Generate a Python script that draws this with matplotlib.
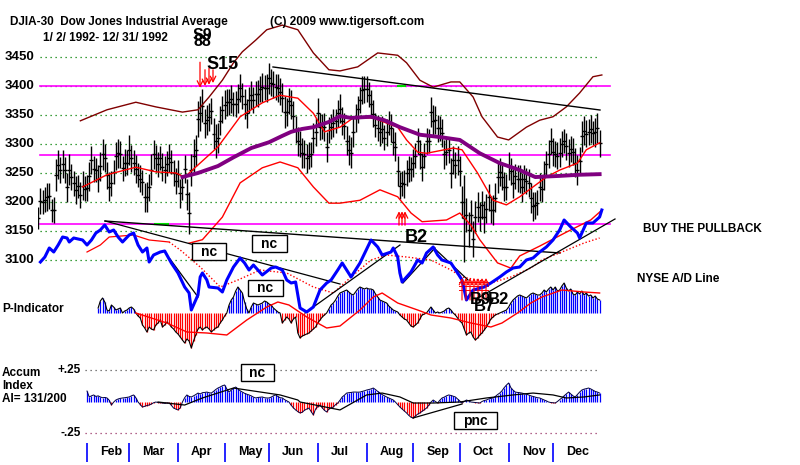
import numpy as np
import matplotlib
matplotlib.use('Agg')
import matplotlib.pyplot as plt
from matplotlib.patches import Rectangle

# fonts
plt.rcParams['font.family'] = ['Liberation Sans', 'DejaVu Sans']

W, H = 800, 465
X0, DX = 38.2, 2.219   # pixel of trading day 0, pixels per trading day

# ---------------- data ----------------
months = ['Jan', 'Feb', 'Mar', 'Apr', 'May', 'Jun', 'Jul', 'Aug', 'Sep', 'Oct', 'Nov', 'Dec']
month_days = [22, 19, 22, 21, 20, 22, 22, 21, 21, 22, 20, 22]
price_ticks = [3100, 3150, 3200, 3250, 3300, 3350, 3400, 3450]
magenta_levels = [3400, 3281, 3162]

# daily DJIA closes 1992
closes = [
    3172, 3201, 3200, 3204, 3209, 3210, 3186, 3186, 3246, 3264, 3255, 3265, 3255, 3225, 3256, 3243, 3232, 3221, 3227, 3212, 3228, 3223,
    3224, 3244, 3272, 3257, 3255, 3240, 3262, 3282, 3276, 3246, 3226, 3232, 3252, 3280, 3284, 3282, 3258, 3268, 3268,
    3290, 3275, 3268, 3257, 3246, 3240, 3234, 3208, 3209, 3225, 3256, 3282, 3275, 3265, 3276, 3260, 3256, 3266, 3276, 3269, 3250, 3236,
    3249, 3215, 3225, 3257, 3213, 3181, 3255, 3280, 3289, 3343, 3353, 3366, 3336, 3341, 3347, 3357, 3318, 3305, 3310, 3340, 3359,
    3368, 3372, 3372, 3378, 3369, 3369, 3378, 3397, 3383, 3369, 3353, 3376, 3384, 3376, 3387, 3387, 3395, 3398, 3397, 3396,
    3413, 3406, 3403, 3398, 3396, 3390, 3380, 3355, 3355, 3374, 3368, 3348, 3325, 3305, 3300, 3285, 3283, 3275, 3280, 3282, 3310, 3320,
    3354, 3330, 3330, 3329, 3295, 3324, 3330, 3336, 3340, 3353, 3361, 3339, 3331, 3306, 3290, 3285, 3320, 3345, 3360, 3376, 3393, 3394,
    3395, 3385, 3369, 3352, 3333, 3328, 3320, 3325, 3311, 3320, 3336, 3328, 3304, 3295, 3254, 3228, 3232, 3231, 3250, 3257, 3257,
    3267, 3280, 3305, 3282, 3260, 3280, 3305, 3305, 3355, 3340, 3341, 3327, 3327, 3319, 3282, 3287, 3290, 3250, 3272, 3264, 3272,
    3254, 3200, 3172, 3178, 3152, 3177, 3137, 3174, 3191, 3175, 3195, 3174, 3188, 3208, 3187, 3186, 3207, 3243, 3251, 3243, 3226, 3226,
    3262, 3253, 3232, 3244, 3240, 3240, 3225, 3240, 3236, 3233, 3207, 3193, 3194, 3199, 3226, 3223, 3246, 3266, 3283, 3305,
    3286, 3283, 3280, 3285, 3300, 3305, 3296, 3284, 3291, 3287, 3268, 3255, 3270, 3313, 3323, 3318, 3321, 3326, 3319, 3320, 3327, 3301,
]
# daily high-low range
spreads = [
    38, 45, 40, 42, 48, 44, 40, 46, 55, 50, 44, 48, 45, 50, 52, 46, 44, 48, 40, 46, 50, 44,
    46, 50, 48, 44, 42, 46, 50, 52, 48, 46, 50, 44, 42, 48, 50, 46, 44, 48, 42,
    52, 46, 44, 48, 42, 46, 44, 50, 52, 48, 54, 50, 46, 44, 42, 48, 46, 44, 48, 42, 46, 44,
    46, 50, 44, 48, 52, 72, 56, 58, 54, 62, 60, 56, 50, 52, 48, 46, 54, 58, 52, 50, 46,
    50, 46, 44, 48, 42, 46, 50, 48, 46, 52, 50, 44, 48, 46, 42, 48, 46, 50, 44, 48,
    52, 48, 46, 44, 48, 46, 50, 54, 48, 46, 50, 52, 48, 50, 46, 52, 48, 50, 46, 44, 52, 48,
    50, 46, 44, 48, 52, 46, 44, 48, 42, 46, 50, 48, 44, 50, 52, 54, 50, 48, 46, 44, 48, 46,
    46, 44, 48, 46, 42, 44, 46, 48, 44, 46, 42, 48, 46, 50, 52, 46, 44, 48, 46, 44, 42,
    48, 44, 46, 50, 48, 44, 46, 42, 52, 54, 48, 46, 44, 48, 50, 46, 44, 52, 48, 46, 50,
    52, 56, 150, 58, 60, 54, 62, 56, 52, 50, 48, 54, 50, 46, 48, 52, 50, 54, 48, 46, 50, 44,
    48, 46, 50, 44, 46, 48, 50, 46, 44, 48, 52, 50, 46, 44, 48, 46, 50, 44, 48, 46,
    48, 44, 46, 50, 44, 42, 46, 48, 44, 46, 50, 52, 48, 54, 50, 46, 44, 48, 42, 50, 52, 46,
]

# slow moving average (purple)
ma_slow_days = [65, 72, 81, 88, 96, 104, 110, 114, 119, 124, 131, 136, 141, 150, 156, 163, 172, 181, 190, 199, 208, 217, 224, 235, 244, 253]
ma_slow_vals = [3243, 3250, 3262, 3277, 3293, 3303, 3314, 3321, 3326, 3329, 3338, 3348, 3345, 3347, 3341, 3329, 3316, 3312, 3307, 3284, 3267, 3255, 3243, 3245, 3247, 3248]
# 21-day average (red)
ma_fast_days = [20, 31, 44, 53, 62, 66, 81, 91, 101, 109, 117, 124, 129, 136, 142, 151, 157, 162, 166, 171, 175, 187, 191, 198, 205, 211, 217, 223, 229, 235, 243, 247, 253]
ma_fast_vals = [3226, 3247, 3260, 3252, 3250, 3243, 3295, 3347, 3371, 3384, 3379, 3353, 3321, 3329, 3345, 3345, 3336, 3329, 3307, 3286, 3284, 3293, 3290, 3250, 3203, 3195, 3209, 3226, 3243, 3255, 3267, 3290, 3302]
# upper band (dark red)
upper_days = [19, 31, 44, 53, 65, 72, 77, 83, 88, 92, 98, 103, 110, 117, 124, 131, 136, 144, 153, 162, 166, 172, 178, 186, 190, 196, 200, 207, 212, 220, 226, 232, 238, 244, 250, 254]
upper_vals = [3340, 3359, 3372, 3364, 3355, 3359, 3381, 3410, 3440, 3459, 3479, 3497, 3505, 3497, 3457, 3428, 3426, 3433, 3457, 3453, 3440, 3410, 3398, 3407, 3407, 3381, 3347, 3312, 3307, 3329, 3341, 3347, 3364, 3388, 3416, 3419]
# lower band (red)
lower_days = [68, 74, 83, 91, 101, 109, 117, 124, 131, 136, 145, 154, 162, 168, 173, 184, 190, 195, 199, 207, 213, 217, 226, 238, 249, 254]
lower_vals = [3129, 3135, 3174, 3233, 3259, 3269, 3259, 3226, 3198, 3198, 3203, 3221, 3209, 3181, 3166, 3169, 3181, 3160, 3135, 3095, 3086, 3107, 3124, 3148, 3169, 3186]

# NYSE A/D line (relative units)
ad_days = [1, 3, 5, 7, 9, 11, 13, 14, 16, 20, 22, 24, 26, 28, 30, 32, 34, 36, 38, 41, 43, 45, 47, 49, 50, 52, 55, 57,
           60, 63, 66, 68, 69, 72, 73, 74, 76, 77, 81, 83, 85, 88, 91, 93, 95, 97, 99, 101, 105, 107, 110, 112, 114,
           116, 118, 121, 124, 127, 130, 132, 135, 137, 141, 145, 150, 153, 155, 159, 160, 162, 163, 164, 168, 171, 173,
           175, 178, 180, 182, 186, 189, 191, 193, 196, 201, 204, 208, 211, 214, 217, 220, 223, 226, 229, 232, 235, 237,
           240, 243, 244, 247, 250, 253, 254]
ad_vals = [68, 73, 82, 78, 85, 93, 92, 88, 92, 90, 85, 90, 97, 100, 105, 98, 100, 93, 88, 95, 97, 85, 78, 82, 68, 75, 78, 79,
           67, 57, 43, 37, 20, 35, 53, 57, 50, 43, 42, 38, 50, 63, 72, 67, 60, 65, 60, 55, 62, 63, 60, 50, 47,
           48, 22, 18, 23, 40, 47, 50, 60, 67, 53, 67, 90, 83, 75, 78, 82, 73, 57, 48, 58, 70, 67,
           77, 83, 75, 70, 67, 57, 50, 30, 40, 43, 47, 53, 58, 62, 63, 70, 72, 78, 83, 90, 100, 110,
           103, 97, 92, 107, 107, 113, 120]
ad_ma_solid_days = [22, 28, 32, 43, 50, 59]
ad_ma_solid_vals = [78, 85, 93, 95, 90, 88]
ad_ma_days = [59, 64, 73, 82, 90, 100, 112, 124, 133, 141, 150, 157, 166, 177, 186, 191, 198, 204, 213, 222, 227, 236, 246, 253]
ad_ma_vals = [88, 80, 63, 43, 50, 60, 57, 43, 37, 53, 70, 75, 73, 70, 60, 53, 50, 47, 53, 62, 70, 78, 87, 92]

# P-Indicator, one value per day from day 27
p_start = 27
p_vals = [
    5, 12, 15, 11, 3, 2, 8, 6, 3, 4,
    5, 0, 2, 3, 5, 6, 4, 0, -3, -5,
    -12, -15, -19, -14, -16, -17, -12, -10, -7, -14,
    -12, -9, -11, -14, -16, -19, -21, -24, -27, -30,
    -26, -28, -35, -28, -22, -16, -14, -17, -15, -14,
    -16, -19, -17, -15, -14, -10, -7, -3, 0, 8,
    13, 16, 22, 26, 23, 20, 11, 4, 0, 6,
    10, 9, 8, 9, 10, 12, 11, 9, 8, 5,
    3, 1, 0, -10, -7, -4, -6, -10, -6, -4,
    -20, -25, -23, -22, -21, -20, -18, -16, -14, -10,
    -7, -4, -2, 0, 4, 8, 10, 13, 17, 20,
    21, 22, 23, 21, 19, 18, 21, 24, 26, 25,
    24, 25, 24, 24, 23, 19, 16, 13, 12, 11,
    10, 7, 5, 3, 2, 1, -2, -4, -6, -7,
    -10, -13, -14, -12, -10, -6, -2, -1, 0, 3,
    6, 3, 0, 1, 0, 1, 2, 4, 5, 3,
    0, -2, -5, -8, -10, -16, -22, -20, -19, -24,
    -27, -25, -22, -20, -17, -14, -10, -6, -4, -2,
    -1, 0, 1, 2, 3, 6, 10, 13, 15, 17,
    18, 17, 16, 15, 17, 19, 20, 19, 18, 18,
    20, 23, 21, 24, 26, 23, 26, 22, 23, 27,
    30, 25, 22, 24, 19, 18, 21, 19, 22, 18,
    20, 17, 18, 15, 17, 14, 13,
]
p_ma_days = [44, 58, 67, 76, 85, 94, 103, 108, 113, 121, 130, 136, 145, 151, 155, 162, 171, 177, 186, 195, 204, 209, 216, 222, 227, 236, 246, 253]
p_ma_vals = [0, -10, -19, -20, -22, -7, 6, 11, 8, -4, -15, -13, 3, 16, 20, 10, 3, -2, -5, -10, -14, -10, 0, 10, 16, 23, 21, 20]

# Accumulation Index, one value per day from day 22
ai_start = 22
ai_vals = [
    .083, .036, .045, .052, .040, .045, .036, .030, .032, .028,
    .010, -.028, -.005, .012, .020, .025, .028, .030, .033, .036,
    .045, .052, .030, -.004, -.025, -.044, -.038, -.032, -.028, -.020,
    -.010, -.004, -.008, -.010, -.012, -.015, -.012, -.012, -.030, -.052,
    -.060, -.067, -.050, -.004, .030, .052, .040, .036, .045, .055,
    .067, .060, .070, .072, .075, .070, .067, .080, .095, .107,
    .115, .125, .131, .100, .075, .090, .105, .115, .100, .085,
    .075, .065, .058, .052, .045, .035, .028, .032, .034, .036,
    .030, .028, .028, .035, .045, .052, .040, .030, .028, .015,
    .005, -.004, -.030, -.050, -.067, -.080, -.091, -.085, -.070, -.060,
    -.052, -.080, -.107, -.060, -.040, -.028, -.050, -.070, -.083, -.060,
    -.050, -.044, -.025, -.012, .010, .036, .050, .067, .070, .072,
    .075, .075, .074, .075, .080, .085, .091, .095, .100, .107,
    .095, .080, .067, .055, .045, .036, .028, .020, .012, -.005,
    -.025, -.044, -.060, -.075, -.091, -.110, -.125, -.131, -.115, -.100,
    -.091, -.078, -.065, -.052, -.030, -.005, .012, .000, -.012, .010,
    .028, .035, .045, .052, .048, .042, .036, .020, .005, -.012,
    .000, .012, .005, -.004, -.006, -.008, -.010, -.012, .000, .008,
    .012, .020, .025, .028, .040, .055, .067, .085, .110, .130,
    .147, .110, .090, .075, .072, .070, .067, .062, .058, .052,
    .045, .040, .035, .030, .028, .020, .012, .005, -.004, -.008,
    -.010, -.012, .000, .015, .028, .045, .060, .075, .060, .045,
    .036, .055, .075, .091, .098, .102, .107, .100, .090, .080,
    .075, .067,
]
ai_ma_days = [54, 66, 74, 88, 109, 117, 118, 136, 148, 155, 163, 169, 178, 190, 202, 214, 223, 232, 238, 246, 253]
ai_ma_vals = [-.004, -.028, .028, .107, .052, .012, -.004, -.067, .052, .067, .036, -.012, -.012, -.004, .028, .052, .067, .052, .028, .036, .052]


# ---------------- layout helpers ----------------
def day(x):
    return (x - X0) / DX


def fpos(x, y):
    return x / W, 1 - y / H


fig = plt.figure(figsize=(W / 100, H / 100), dpi=100)
fig.patch.set_facecolor('white')


def panel(top, bottom, ylim):
    ax = fig.add_axes([38 / W, 1 - bottom / H, 574 / W, (bottom - top) / H])
    ax.set_xlim(day(38), day(612))
    ax.set_ylim(*ylim)
    ax.axis('off')
    return ax


def ftext(x, y, s, size=8.5, **kw):
    fig.text(*fpos(x, y), s, fontsize=size, fontweight='bold', va='center', **kw)


# ---------------- price panel ----------------
ax_p = panel(20, 270, (3082.76, 3513.79))
for lvl in price_ticks:
    ax_p.plot([day(40), day(600)], [lvl, lvl], color='#008000', lw=0.9, ls=(0, (1, 3)), zorder=1)
    ax_p.text(day(34), lvl, str(lvl), ha='right', va='center', fontsize=9.5,
              fontweight='bold', clip_on=False)
for lvl in magenta_levels:
    ax_p.plot([day(40), day(610)], [lvl, lvl], color='#ff00ff', lw=1.2, zorder=1.5)
ax_p.plot([day(398), day(405)], [3400, 3400], color='#00dd00', lw=1.5, zorder=1.6)
ax_p.plot([day(155), day(168)], [3162, 3162], color='#00dd00', lw=1.5, zorder=1.6)

days = np.arange(len(closes))
c = np.array(closes, dtype=float)
s = np.array(spreads, dtype=float)
ax_p.vlines(days, c - s / 2, c + s / 2, color='black', lw=1.0, zorder=2)
ax_p.hlines(c, days - 0.9, days + 0.9, color='black', lw=1.0, zorder=2)

ax_p.plot(upper_days, upper_vals, color='#800000', lw=1.0, zorder=3)
ax_p.plot(lower_days, lower_vals, color='#ff0000', lw=1.0, zorder=3)
ax_p.plot(ma_fast_days, ma_fast_vals, color='#ff0000', lw=1.0, zorder=3)
ax_p.plot(ma_slow_days, ma_slow_vals, color='#800080', lw=2.8, zorder=3)

# trendlines
ax_p.plot([day(273), day(600)], [3432.8, 3358.6], color='black', lw=1.0, zorder=3)
ax_p.plot([day(105), day(560)], [3167.2, 3112.1], color='black', lw=1.0, zorder=3)

# S15 sell arrows and B2 buy arrows
for x, y0, y1 in [(200, 3441, 3397), (205, 3428, 3400), (209, 3431, 3402), (213, 3428, 3405)]:
    ax_p.annotate('', xy=(day(x), y1), xytext=(day(x), y0),
                  arrowprops=dict(arrowstyle='->', color='red', lw=0.9, shrinkA=0, shrinkB=0))
for x in [399, 402, 405]:
    ax_p.annotate('', xy=(day(x), 3184), xytext=(day(x), 3160),
                  arrowprops=dict(arrowstyle='->', color='red', lw=0.9, shrinkA=0, shrinkB=0))
ax_p.text(day(206), 3437, 'S15', fontsize=13, fontweight='bold', va='center')

# ---------------- A/D line panel ----------------
ax_ad = panel(190, 330, (0, 140))
ax_ad.plot(ad_ma_solid_days, ad_ma_solid_vals, color='#ff0000', lw=0.9)
ax_ad.plot(ad_ma_days, ad_ma_vals, color='#ff0000', lw=1.0, ls=(0, (1, 1.5)))
ax_ad.plot(ad_days, ad_vals, color='#0000ff', lw=2.2, zorder=3)
for (x0, y0), (x1, y1) in [((105, 221), (340, 284)), ((170, 259), (198, 297)),
                           ((305, 313), (400, 245)), ((403, 283), (435, 248)),
                           ((433, 247), (468, 280)), ((478, 298), (615, 219))]:
    ax_ad.plot([day(x0), day(x1)], [330 - y0, 330 - y1], color='black', lw=0.9,
               zorder=2, clip_on=False)

# October buy-signal arrows
for x in range(462, 488, 4):
    ax_ad.annotate('', xy=(day(x), 52), xytext=(day(x), 30),
                   arrowprops=dict(arrowstyle='->', color='red', lw=0.8, shrinkA=0, shrinkB=0))
for v in [48, 44, 40]:
    ax_ad.plot([day(459), day(488)], [v, v], color='red', lw=0.7)


def box(ax, x0, y0, x1, y1, label, yconv):
    ax.add_patch(Rectangle((day(x0), yconv(y1)), day(x1) - day(x0), yconv(y0) - yconv(y1),
                           facecolor='white', edgecolor='black', lw=1.0, zorder=5, clip_on=False))
    ax.text((day(x0) + day(x1)) / 2, (yconv(y0) + yconv(y1)) / 2, label, ha='center',
            va='center', fontsize=10, fontweight='bold', zorder=6)


ad_y = lambda y: 330 - y
box(ax_ad, 192, 243, 226, 260, 'nc', ad_y)
box(ax_ad, 252, 235, 287, 252, 'nc', ad_y)
box(ax_ad, 248, 280, 283, 296, 'nc', ad_y)

# ---------------- P-Indicator ----------------
ax_pi = panel(270, 360, (313 - 360, 313 - 270))
pd_ = np.arange(p_start, p_start + len(p_vals))
pv = np.array(p_vals)
ax_pi.vlines(pd_, 0, pv, colors=np.where(pv > 0, '#0000ff', '#ff0000'), lw=0.9)
ax_pi.plot(pd_, pv, color='black', lw=0.8)
ax_pi.plot(p_ma_days, p_ma_vals, color='#ff0000', lw=1.0)

# ---------------- Accumulation Index ----------------
ai_scale = 0.5 / 63
ax_ai = panel(360, 440, (-(440 - 401.5) * ai_scale, (401.5 - 360) * ai_scale))
ax_ai.plot([day(85), day(600)], [0.25, 0.25], color='#555555', lw=0.9, ls=(0, (1, 3)))
ax_ai.plot([day(85), day(600)], [-0.25, -0.25], color='#993366', lw=0.9, ls=(0, (1, 3)))
ad_ = np.arange(ai_start, ai_start + len(ai_vals))
av = np.array(ai_vals)
ax_ai.vlines(ad_, 0, av, colors=np.where(av > 0, '#0000ff', '#ff0000'), lw=0.9)
ax_ai.plot(ad_, av, color='#000040', lw=0.7)
ax_ai.plot(ai_ma_days, ai_ma_vals, color='black', lw=0.9)
ax_ai.plot([day(413), day(462)], [-0.131, -0.020], color='black', lw=0.9)
ax_ai.text(day(81), 0.25, '+.25', ha='right', va='center', fontsize=8.5, fontweight='bold', clip_on=False)
ax_ai.text(day(81), -0.25, '-.25', ha='right', va='center', fontsize=8.5, fontweight='bold', clip_on=False)
ai_y = lambda y: (401.5 - y) * ai_scale
box(ax_ai, 241, 364, 274, 381, 'nc', ai_y)
box(ax_ai, 454, 412, 497, 429, 'pnc', ai_y)

# ---------------- month axis ----------------
ax_m = panel(440, 465, (0, 1))
starts = np.cumsum([0] + month_days[:-1])
ax_m.vlines(starts[1:], 0.12, 0.88, color='#0000ff', lw=1.2)
for name, st in zip(months[1:], starts[1:]):
    ax_m.text(st + 5.9, 0.52, name, ha='left', va='center', fontsize=9, fontweight='bold')

# ---------------- texts ----------------
ftext(10, 22, 'DJIA-30  Dow Jones Industrial Average')
ftext(270, 22, '(C) 2009 www.tigersoft.com')
ftext(43, 38, '1/ 2/ 1992- 12/ 31/ 1992')
ftext(193, 35, 'S9', size=11.5)
ftext(193, 41, '88', size=11.5)
ftext(405, 237, 'B2', size=13)
ftext(470, 300, 'B9', size=12)
ftext(488, 300, 'B2', size=12)
ftext(474, 306, 'B7', size=12)
ftext(643, 229, 'BUY THE PULLBACK')
ftext(637, 279, 'NYSE A/D Line')
ftext(2, 309, 'P-Indicator')
ftext(2, 373, 'Accum')
ftext(2, 386, 'Index')
ftext(2, 399, 'AI= 131/200')

plt.savefig('out.png', dpi=100, facecolor='white')
